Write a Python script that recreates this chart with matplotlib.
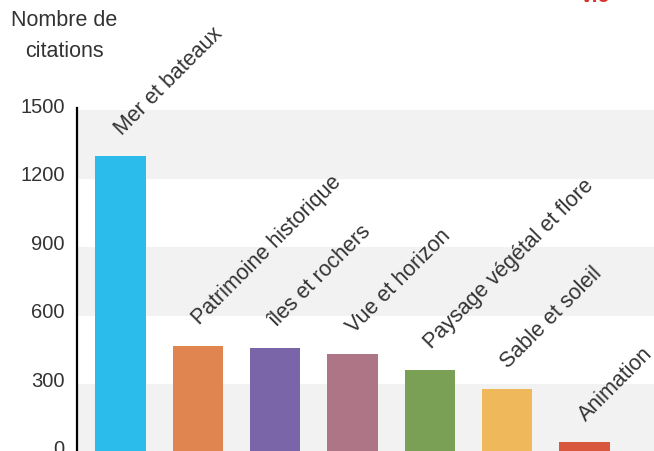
import matplotlib.pyplot as plt
import matplotlib.transforms as mtransforms
import numpy as np

plt.rcParams['font.family'] = ['Liberation Sans', 'DejaVu Sans']

# data
categories = ['Mer et bateaux', 'Patrimoine historique', 'îles et rochers',
              'Vue et horizon', 'Paysage végétal et flore', 'Sable et soleil',
              'Animation']
citations = [1300, 466, 458, 431, 361, 278, 46]
bar_colors = ['#2cbcec', '#e0854f', '#7a65a9', '#ad7586', '#7aa056',
              '#eeb85b', '#d9573d']
y_ticks = [0, 300, 600, 900, 1200, 1500]

fig = plt.figure(figsize=(6.54, 4.51), dpi=100)
ax = fig.add_axes([77 / 654, -0.0035, 1 - 77 / 654, 0.7595])

# alternating grey bands
for lo in (0, 600, 1200):
    ax.axhspan(lo, lo + 300, color='#f2f2f3', zorder=0, lw=0)

x = np.arange(len(categories))
ax.bar(x, citations, width=0.65, color=bar_colors, zorder=2)

for i in range(len(categories)):
    ax.annotate(categories[i], (x[i], citations[i]), xytext=(3.5, 12),
                textcoords='offset points', rotation=45, rotation_mode='anchor',
                ha='left', va='bottom', fontsize=15.5, color='#333333')

ax.set_xlim(-0.563, 6.9)
ax.set_ylim(0, 1500)
ax.set_yticks(y_ticks)
ax.set_yticklabels([str(v) for v in y_ticks], fontsize=14.5, color='#333333')
ax.tick_params(axis='y', length=0, pad=9)
# labels sit a little above their band edges in the reference
shift = mtransforms.ScaledTranslation(0, 5 / 100, fig.dpi_scale_trans)
for lab in ax.get_yticklabels():
    lab.set_transform(lab.get_transform() + shift)
ax.set_xticks([])
for s in ['top', 'right', 'bottom']:
    ax.spines[s].set_visible(False)
ax.spines['left'].set_linewidth(1.6)
ax.spines['left'].set_bounds(0, 1510)
ax.patch.set_alpha(0)

fig.text(64 / 654, 1 - 10 / 451, 'Nombre de\ncitations', ha='center', va='top',
         fontsize=15.5, color='#333333', linespacing=1.6)

# cropped red word at the top right corner
fig.text(596 / 654, 1 + 3 / 451, 'vie', ha='center', va='center',
         fontsize=15, color='#d9342b', fontweight='bold')

fig.savefig('out.png', dpi=100)
